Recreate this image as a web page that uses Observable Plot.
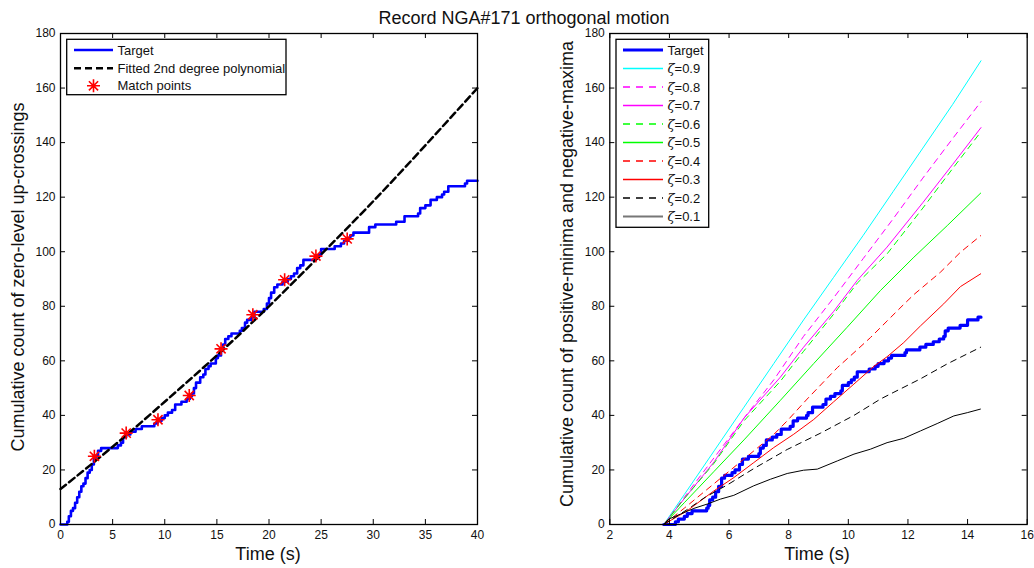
<!DOCTYPE html>
<html><head><meta charset="utf-8">
<script src="https://cdn.jsdelivr.net/npm/d3@7"></script>
<script src="https://cdn.jsdelivr.net/npm/@observablehq/plot@0.6"></script>
<style>
body{margin:0;background:#fff;font-family:"Liberation Sans",Arial,sans-serif;}
#root{position:relative;width:1034px;height:568px;overflow:hidden;background:#fff;}
</style></head><body><div id="root"></div>
<script>
// ---------- Data: left panel ----------
const titleText = "Record NGA#171 orthogonal motion";
const xTicksLeft = [0,5,10,15,20,25,30,35,40];
const xTicksRight = [2,4,6,8,10,12,14,16];
const yTicks = [0,20,40,60,80,100,120,140,160,180];

const targetT = [0,0.65,0.8,1.0,1.2,1.4,1.6,1.8,2.0,2.2,2.4,2.6,2.8,3.0,3.2,3.4,3.6,3.9,5.5,5.8,
  6.0,6.3,6.7,7.2,7.8,9.0,9.3,9.7,10.0,10.3,10.7,11.0,11.6,12.1,12.4,12.6,12.8,13.0,13.4,13.7,
  13.9,14.2,14.4,14.9,15.1,15.4,15.6,15.8,16.1,16.4,17.2,17.4,17.7,17.9,18.3,18.6,19.5,19.8,20.0,20.2,
  20.5,20.8,21.3,21.8,22.1,22.4,22.7,23.0,23.3,24.5,24.8,25.0,26.3,26.9,27.2,27.6,27.8,28.1,29.6,30.2,
  32.2,33.0,34.3,34.5,35.0,35.5,36.1,36.6,36.8,37.2,38.8,39.0,40];
const targetV = [0,1,3,5,6,8,10,12,14,15,17,19,20,22,24,25,27,28,29,30,
  32,33,34,35,36,37,38,39,40,41,42,44,45,46,47,48,50,52,54,55,
  57,58,59,61,62,64,66,68,69,70,71,72,74,75,76,78,79,81,83,85,
  87,88,89,90,91,92,94,95,97,98,99,101,102,103,104,105,106,107,109,110,
  111,113,114,116,117,119,120,121,122,124,125,126,126];

const fitT = [0,5,10,15,20,25,30,35,40];
const fitV = [13,28.5,45,62,80,99,118.5,139,160];

const matchT = [3.25,6.3,9.35,12.35,15.4,18.45,21.5,24.5,27.5];
const matchV = [25,33.5,38.4,47.3,64.4,76.9,89.7,98.4,104.7];

// ---------- Data: right panel ----------
const rTargetT = [3.81,4.2,4.3,4.5,4.6,4.76,5.25,5.3,5.35,5.45,5.55,5.65,5.75,5.85,6.1,6.2,6.35,6.45,6.65,7.0,
  7.05,7.15,7.25,7.45,7.6,7.75,8.05,8.15,8.3,8.6,8.65,8.8,9.15,9.25,9.4,9.55,9.75,9.8,10.0,10.1,
  10.2,10.3,10.7,10.9,11.0,11.2,11.35,11.45,11.9,11.95,12.4,12.6,12.85,13.05,13.2,13.25,13.35,13.75,14.0,14.35,14.45];
const rTargetV = [0,1,2,3,4,5,6,7,9,10,12,14,17,18,19,20,22,24,25,26,
  28,29,31,32,33,35,36,38,39,40,41,43,44,46,47,48,49,51,52,53,
  54,56,57,58,59,60,61,62,63,64,65,66,67,68,69,71,72,73,75,76,76];

const z09T = [3.81,4.5,5.5,6.5,7.5,8.5,9.5,10.5,11.5,12.5,13.5,14.45];
const z09V = [0,11,27,43,59,75,90.5,106,122,138,154,170];
const z08T = [3.81,4.5,5.5,6.5,7.5,8.5,9.5,10.5,11.5,12.5,13.5,14.45];
const z08V = [0,10,24.5,39,53,69,83,97.5,112,127,141.5,155];
const z07T = [3.81,4.5,5.5,6.5,7.72,8.5,9.5,10.3,11.3,12.5,13.5,14.45];
const z07V = [0,9.5,23,39,54,65,78,89.5,101.7,118,132,145.5];
const z06T = [3.81,4.5,5.5,6.5,7.72,8.5,9.5,10.3,11.3,12.5,13.5,14.45];
const z06V = [0,9.5,22.5,38,52.5,63.5,77,88.5,99.2,116,130.5,144];
const z05T = [3.81,4.5,5.5,6.5,7.72,8.84,9.96,11.08,12.2,13.32,14.44];
const z05V = [0,8,19.5,31,45.5,59,72.3,85.8,98,109.6,121.5];
const z04T = [3.81,4.5,5.5,6.5,7.5,7.95,8.62,9.63,10.19,10.74,11.3,11.86,12.2,13.09,13.76,14.44];
const z04V = [0,6,15,24,33,38,46,57.5,63,68.5,74.6,80.7,84.3,92.5,99.8,105.9];
const z03T = [3.81,4.59,5.49,6.16,6.83,7.5,8.17,8.84,9.51,10.19,10.86,11.3,11.86,12.42,13.2,13.76,14.44];
const z03V = [0,5,12.3,17.2,22.7,28.2,33.1,38.5,45,51.5,58,61.5,66.7,72.8,80.9,87.2,91.9];
const z02T = [3.81,4.6,5.2,5.94,6.83,7.95,9.07,10.19,11.08,11.53,12.42,13.32,14.44];
const z02V = [0,5.5,10,14.5,20.5,27.5,33.5,40,46,48.5,53.4,58.9,65];
const z01T = [3.81,3.98,4.37,4.82,5.27,5.71,6.16,6.83,7.39,7.95,8.5,8.96,9.63,10.19,10.74,11.3,11.86,12.42,12.98,13.54,13.99,14.43];
const z01V = [0,2,3.8,5.9,7.5,9.3,10.7,14.2,16.6,18.7,19.9,20.3,23.3,25.8,27.6,30,31.6,34.3,37,39.8,41,42.3];

const zetaLabels = ["0.9","0.8","0.7","0.6","0.5","0.4","0.3","0.2","0.1"];
const zetaColors = ["#00ffff","#ff00ff","#ff00ff","#00ff00","#00ff00","#ff0000","#ff0000","#000000","#000000"];
const zetaDash = [null,"6,5",null,"6,5",null,"6,5",null,"6,5",null];
const zetaT = [z09T,z08T,z07T,z06T,z05T,z04T,z03T,z02T,z01T];
const zetaV = [z09V,z08V,z07V,z06V,z05V,z04V,z03V,z02V,z01V];

// ---------- Helpers ----------
const zip = (T, V) => T.map((t, i) => ({t, v: V[i]}));
const FONT = "Liberation Sans, Arial, Helvetica, sans-serif";
const W = 517, H = 568, MT = 33, MB = 44;

const asterisk8 = {draw(ctx, size) {
  const r = Math.sqrt(size / Math.PI), d = r * Math.SQRT1_2;
  ctx.moveTo(0, -r); ctx.lineTo(0, r);
  ctx.moveTo(-r, 0); ctx.lineTo(r, 0);
  ctx.moveTo(-d, -d); ctx.lineTo(d, d);
  ctx.moveTo(-d, d); ctx.lineTo(d, -d);
}};

function panel({xDomain, xTicks, marginLeft, marginRight, marks}) {
  const innerW = W - marginLeft - marginRight, innerH = H - MT - MB;
  return Plot.plot({
    width: W, height: H, marginLeft, marginRight, marginTop: MT, marginBottom: MB,
    x: {domain: xDomain},
    y: {domain: [0, 180]},
    style: {fontFamily: FONT, fontSize: "12px", color: "#000", background: "transparent", overflow: "visible"},
    marks: [
      ...marks,
      Plot.frame({stroke: "#000", strokeWidth: 1.3}),
      Plot.axisX(xTicks, {tickSize: 0, tickPadding: 6, label: null, fill: "#111", fontSize: 12}),
      Plot.axisY(yTicks, {tickSize: 0, tickPadding: 5, label: null, fill: "#111", fontSize: 12}),
      Plot.tickX(xTicks, {x: d => d, insetTop: innerH - 5, stroke: "#000"}),
      Plot.tickX(xTicks, {x: d => d, insetBottom: innerH - 5, stroke: "#000"}),
      Plot.tickY(yTicks, {y: d => d, insetRight: innerW - 5, stroke: "#000"}),
      Plot.tickY(yTicks, {y: d => d, insetLeft: innerW - 5, stroke: "#000"})
    ]
  });
}

const root = document.getElementById("root");
function place(el, left) {
  el.style.position = "absolute"; el.style.left = left + "px"; el.style.top = "0px";
  root.appendChild(el);
}

// ---------- Left panel ----------
const left = panel({
  xDomain: [0, 40], xTicks: xTicksLeft, marginLeft: 60, marginRight: 40,
  marks: [
    Plot.line(zip(targetT, targetV), {x: "t", y: "v", stroke: "#0000ff", strokeWidth: 2.6, curve: "step-after"}),
    Plot.line(zip(fitT, fitV), {x: "t", y: "v", stroke: "#000", strokeWidth: 2.5, strokeDasharray: "7,4", curve: "natural"}),
    Plot.dot(zip(matchT, matchV), {x: "t", y: "v", symbol: asterisk8, r: 6.5, fill: "none", stroke: "#ff0000", strokeWidth: 1.6})
  ]
});
place(left, 0);

// ---------- Right panel ----------
const rightMarks = [
  Plot.line(zip(rTargetT, rTargetV), {x: "t", y: "v", stroke: "#0000ff", strokeWidth: 3.2, curve: "step-after"})
];
zetaT.forEach((T, i) => {
  rightMarks.push(Plot.line(zip(T, zetaV[i]), {x: "t", y: "v", stroke: zetaColors[i], strokeWidth: 1,
    strokeDasharray: zetaDash[i] || undefined}));
});
const right = panel({
  xDomain: [2, 16], xTicks: xTicksRight, marginLeft: 92.3, marginRight: 7.3, marks: rightMarks
});
place(right, 517);

// ---------- Overlay: title, labels, legends ----------
const ov = d3.create("svg").attr("width", 1034).attr("height", 568)
  .style("position", "absolute").style("left", "0px").style("top", "0px")
  .style("font-family", FONT);
ov.append("text").attr("x", 524).attr("y", 24).attr("text-anchor", "middle")
  .attr("font-size", 18).attr("fill", "#111").text(titleText);
ov.append("text").attr("x", 268).attr("y", 560).attr("text-anchor", "middle")
  .attr("font-size", 18).attr("fill", "#111").text("Time (s)");
ov.append("text").attr("x", 817).attr("y", 560).attr("text-anchor", "middle")
  .attr("font-size", 18).attr("fill", "#111").text("Time (s)");
ov.append("text").attr("transform", "translate(24,277) rotate(-90)").attr("text-anchor", "middle")
  .attr("font-size", 18).attr("fill", "#111").text("Cumulative count of zero-level up-crossings");
ov.append("text").attr("transform", "translate(573,274) rotate(-90)").attr("text-anchor", "middle")
  .attr("font-size", 18).attr("fill", "#111").text("Cumulative count of positive-minima and negative-maxima");

// left legend
const lg = ov.append("g");
lg.append("rect").attr("x", 66.7).attr("y", 39.3).attr("width", 219.3).attr("height", 55.4)
  .attr("fill", "#fff").attr("stroke", "#000").attr("stroke-width", 1.3);
const leftItems = ["Target", "Fitted 2nd degree polynomial", "Match points"];
const leftY = [50, 68.2, 85.8];
lg.append("line").attr("x1", 74).attr("x2", 113).attr("y1", leftY[0]).attr("y2", leftY[0])
  .attr("stroke", "#0000ff").attr("stroke-width", 2.6);
lg.append("line").attr("x1", 74).attr("x2", 113).attr("y1", leftY[1]).attr("y2", leftY[1])
  .attr("stroke", "#000").attr("stroke-width", 2.5).attr("stroke-dasharray", "7,4");
{
  const r = 6.5, d = r * Math.SQRT1_2, cx = 93.5, cy = leftY[2];
  lg.append("path").attr("d", `M${cx},${cy-r}V${cy+r}M${cx-r},${cy}H${cx+r}M${cx-d},${cy-d}L${cx+d},${cy+d}M${cx-d},${cy+d}L${cx+d},${cy-d}`)
    .attr("stroke", "#ff0000").attr("stroke-width", 1.6).attr("fill", "none");
}
leftItems.forEach((s, i) => lg.append("text").attr("x", 117.5).attr("y", leftY[i]).attr("dy", "0.35em")
  .attr("font-size", 13).attr("fill", "#111").text(s));

// right legend
const rg = ov.append("g");
rg.append("rect").attr("x", 616).attr("y", 39.3).attr("width", 92.7).attr("height", 188)
  .attr("fill", "#fff").attr("stroke", "#000").attr("stroke-width", 1.3);
const ry = i => 50 + i * 18.5;
rg.append("line").attr("x1", 623).attr("x2", 663).attr("y1", ry(0)).attr("y2", ry(0))
  .attr("stroke", "#0000ff").attr("stroke-width", 3.2);
rg.append("text").attr("x", 667.5).attr("y", ry(0)).attr("dy", "0.35em").attr("font-size", 13)
  .attr("fill", "#111").text("Target");
zetaLabels.forEach((lab, i) => {
  const y = ry(i + 1);
  rg.append("line").attr("x1", 623).attr("x2", 663).attr("y1", y).attr("y2", y)
    .attr("stroke", i === 8 ? "#777" : zetaColors[i]).attr("stroke-width", i === 8 ? 2 : 1.3)
    .attr("stroke-dasharray", zetaDash[i] ? "7,6" : null);
  const t = rg.append("text").attr("x", 667.5).attr("y", y).attr("dy", "0.35em").attr("font-size", 13).attr("fill", "#111");
  t.append("tspan").attr("font-style", "italic").attr("font-family", "DejaVu Serif, serif").text("ζ");
  t.append("tspan").text("=" + lab);
});
root.appendChild(ov.node());
</script></body></html>
